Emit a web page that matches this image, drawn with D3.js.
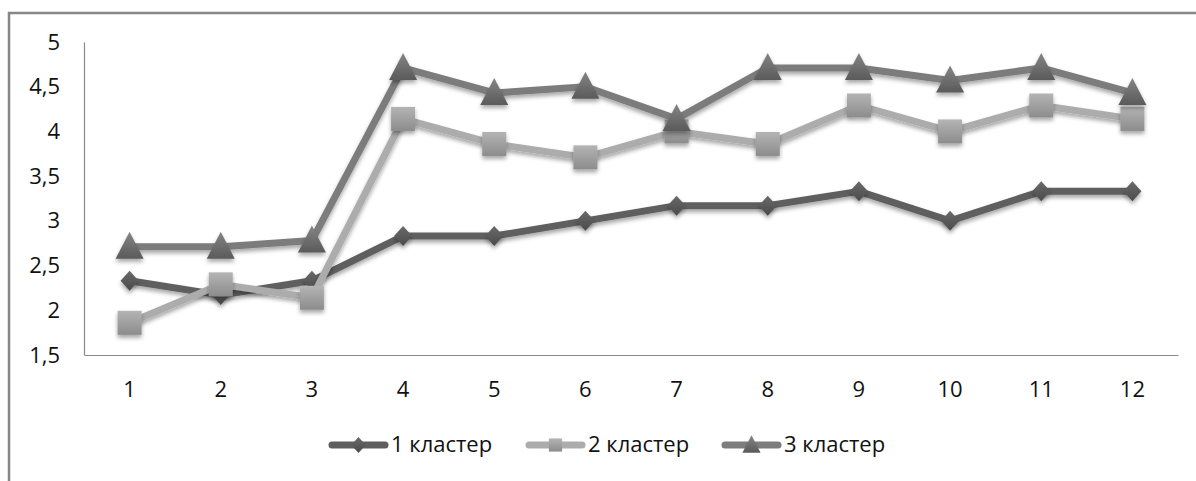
<!DOCTYPE html>
<html><head><meta charset="utf-8">
<script src="https://cdn.jsdelivr.net/npm/d3@7"></script>
<style>html,body{margin:0;padding:0;background:#fff;}svg{display:block;}</style>
</head><body>
<svg id="c" width="1196" height="481"></svg>
<script>
const categories = ["1","2","3","4","5","6","7","8","9","10","11","12"];
const seriesNames = ["1 кластер","2 кластер","3 кластер"];
const cluster1 = [2.33,2.17,2.33,2.83,2.83,3.0,3.17,3.17,3.33,3.0,3.33,3.33];
const cluster2 = [1.86,2.29,2.14,4.14,3.86,3.71,4.0,3.86,4.29,4.0,4.29,4.14];
const cluster3 = [2.71,2.71,2.78,4.71,4.43,4.5,4.14,4.71,4.71,4.57,4.71,4.43];
const yTicks = [1.5,2,2.5,3,3.5,4,4.5,5];

const series = [
  {name: seriesNames[0], values: cluster1, color:"#5f5f5f", g1:"#6a6a6a", g2:"#4a4a4a", shape:"diamond"},
  {name: seriesNames[1], values: cluster2, color:"#acacac", g1:"#b4b4b4", g2:"#8c8c8c", shape:"square"},
  {name: seriesNames[2], values: cluster3, color:"#7c7c7c", g1:"#858585", g2:"#5a5a5a", shape:"triangle"}
];

const svg = d3.select("#c");
const font = "'Open Sans', Lato, sans-serif";
const defs = svg.append("defs");
const f = defs.append("filter").attr("id","sh").attr("x","-50%").attr("y","-50%").attr("width","200%").attr("height","200%");
f.append("feDropShadow").attr("dx",0).attr("dy",3).attr("stdDeviation",2).attr("flood-color","#000").attr("flood-opacity",0.35);
series.forEach((s,i)=>{
  const g = defs.append("linearGradient").attr("id","gr"+i).attr("x1",0).attr("y1",0).attr("x2",0).attr("y2",1);
  g.append("stop").attr("offset","0%").attr("stop-color",s.g1);
  g.append("stop").attr("offset","100%").attr("stop-color",s.g2);
});

// outer frame
svg.append("rect").attr("x",9).attr("y",13).attr("width",1200).attr("height",480)
  .attr("fill","none").attr("stroke","#878787").attr("stroke-width",2.5);

const L=84, R=1178, T=42, B=355;
const x = d3.scaleBand().domain(categories).range([L,R]);
const y = d3.scaleLinear().domain([1.5,5]).range([B,T]);

// axes
const yAxis = svg.append("g").attr("transform",`translate(${L},0)`)
  .call(d3.axisLeft(y).tickValues(yTicks).tickSize(0).tickPadding(24).tickFormat(d=>String(d).replace(".",",")));
yAxis.select(".domain").attr("stroke","#8a8a8a").attr("stroke-width",1.2);
yAxis.selectAll("text").attr("font-family",font).attr("font-size",22).attr("fill","#111");

const xAxis = svg.append("g").attr("transform",`translate(0,${B})`)
  .call(d3.axisBottom(x).tickSize(0).tickPadding(26));
xAxis.select(".domain").attr("stroke","#8a8a8a").attr("stroke-width",1.2);
xAxis.selectAll("text").attr("font-family",font).attr("font-size",22).attr("fill","#111");

function markerPath(shape){
  if(shape==="diamond") return "M0,-10L9,0L0,10L-9,0Z";
  if(shape==="square") return "M-12,-12H12V12H-12Z";
  return "M0,-15L14,12H-14Z";
}

const line = d3.line().x((d,i)=>x(categories[i])+x.bandwidth()/2).y(d=>y(d));
series.forEach((s,i)=>{
  const g = svg.append("g");
  g.append("path").datum(s.values).attr("d",line).attr("fill","none")
    .attr("stroke",s.color).attr("stroke-width",7).attr("stroke-linejoin","round").attr("filter","url(#sh)");
  g.selectAll("path.m").data(s.values).join("path").attr("class","m")
    .attr("transform",(d,j)=>`translate(${x(categories[j])+x.bandwidth()/2},${y(d)})`)
    .attr("d",markerPath(s.shape)).attr("fill",`url(#gr${i})`).attr("filter","url(#sh)");
});

// legend
const legX = [330, 527, 723];
series.forEach((s,i)=>{
  const g = svg.append("g").attr("transform",`translate(${legX[i]},445)`);
  g.append("line").attr("x1",2).attr("x2",55).attr("y1",0).attr("y2",0)
    .attr("stroke",s.color).attr("stroke-width",7).attr("stroke-linecap","round");
  const sc = s.shape==="triangle"?0.65:(s.shape==="square"?0.55:0.8);
  g.append("path").attr("d",markerPath(s.shape)).attr("transform",`translate(28.5,0) scale(${sc})`)
    .attr("fill",`url(#gr${i})`);
  g.append("text").attr("x",61).attr("y",7).text(s.name)
    .attr("font-family",font).attr("font-size",22).attr("fill","#111");
});
</script>
</body></html>
